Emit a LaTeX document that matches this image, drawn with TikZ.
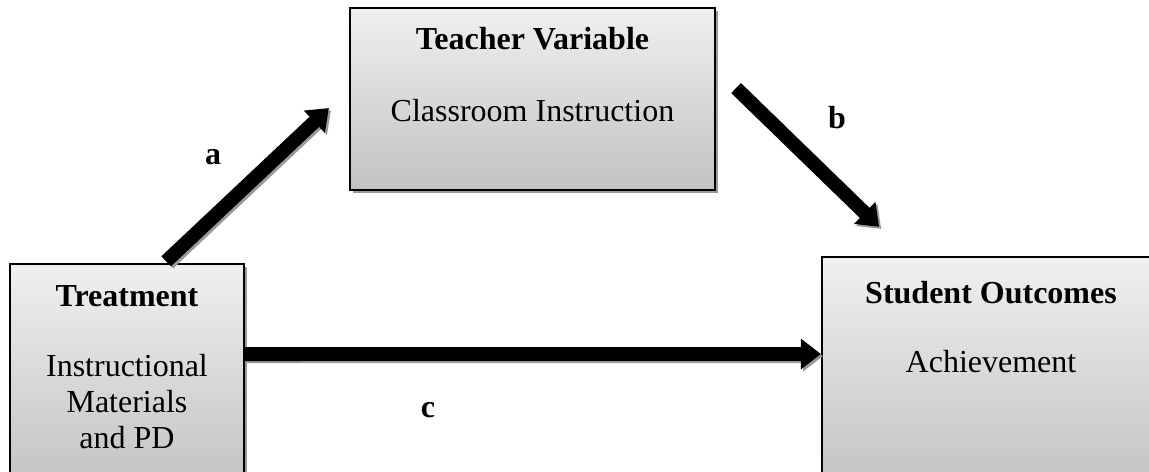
\documentclass[tikz,border=0pt]{standalone}
\usepackage{fontspec}
\setmainfont{Liberation Serif}
\usetikzlibrary{arrows.meta,shadows,positioning}

\begin{document}
\begin{tikzpicture}[x=0.375pt,y=-0.375pt,
  every node/.style={font=\fontsize{12}{13.5}\selectfont},
  box/.style={draw=black,thick,rectangle,top color=gray!12,bottom color=gray!48,
    drop shadow={shadow xshift=1.1pt,shadow yshift=-1.1pt,fill=gray!80,opacity=1}},
  boxtext/.style={align=center,inner sep=0pt,anchor=north},
  fatarrow/.style={line width=5.2pt,-{Triangle[width=11pt,length=7.5pt]},
    preaction={draw=gray!80,line width=5.2pt,-{Triangle[width=11pt,length=7.5pt]},
      transform canvas={shift={(0.8pt,-0.8pt)}}}},
  path label/.style={font=\fontsize{12}{13.5}\selectfont\bfseries}]
  \useasboundingbox (0,0) rectangle (1149,472);
  \clip (0,0) rectangle (1149,472);

  \node[box,minimum width=136.9pt,minimum height=68.25pt] (teach) at (532.5,99) {};
  \node[box,minimum width=87.75pt,minimum height=84.75pt] (treat) at (127,377) {};
  \node[box,minimum width=126.75pt,minimum height=87.4pt] (stud) at (991,373.5) {};

  \node[boxtext,below=7.6pt of teach.north] (teachtxt)
    {\textbf{Teacher Variable}\\[13.2pt]Classroom Instruction};
  \node[boxtext,below=8.4pt of treat.north] (treattxt)
    {\textbf{Treatment}\\[12.6pt]Instructional\\Materials\\and PD};
  \node[boxtext,below=9.2pt of stud.north] (studtxt)
    {\textbf{Student Outcomes}\\[12.6pt]Achievement};

  \draw[fatarrow] ([xshift=-29.6pt,yshift=0.6pt]treat.north east)
    -- ([xshift=-7.5pt,yshift=-3.4pt]teach.west);
  \draw[fatarrow] ([xshift=7.5pt,yshift=4.1pt]teach.east)
    -- ([xshift=21.8pt,yshift=10.9pt]stud.north west);
  \draw[fatarrow] ([yshift=8.6pt]treat.east) -- ([yshift=7.3pt]stud.west);

  \foreach \lbl/\px/\py in {a/213/157,b/837/118,c/428/410}
    \node[path label] (lbl\lbl) at (\px,\py) {\lbl};
\end{tikzpicture}
\end{document}
